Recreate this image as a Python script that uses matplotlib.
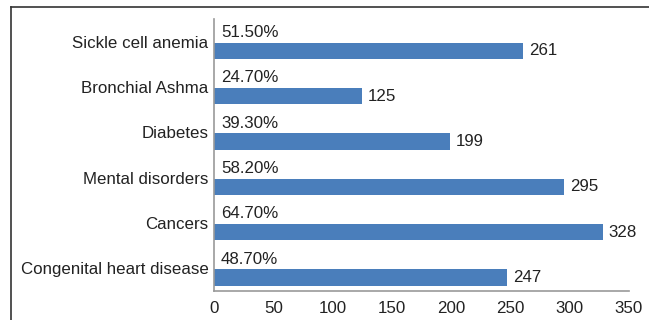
import matplotlib
matplotlib.use("Agg")
import matplotlib.pyplot as plt
from matplotlib.lines import Line2D
import numpy as np

categories = ["Sickle cell anemia", "Bronchial Ashma", "Diabetes",
              "Mental disorders", "Cancers", "Congenital heart disease"]
counts = [261, 125, 199, 295, 328, 247]
percents = ["51.50%", "24.70%", "39.30%", "58.20%", "64.70%", "48.70%"]
xticks = [0, 50, 100, 150, 200, 250, 300, 350]

plt.rcParams['font.family'] = ['Liberation Sans', 'DejaVu Sans']
FS = 12.2
W, H = 649, 320
fig = plt.figure(figsize=(W/100, H/100), dpi=100)
ax = fig.add_axes([214/W, 1-291/H, (629-214)/W, (291-19)/H])

n = len(categories)
pos = np.arange(n)[::-1]  # top to bottom
bar_h = 0.36
offset = -0.2
ax.barh(pos + offset, counts, height=bar_h, color='#4a7ebb', zorder=2)

for p, c, pc in zip(pos, counts, percents):
    ax.text(c + 5, p + offset, str(c), va='center', ha='left', fontsize=FS, color='#222222')
    ax.text(6, p + 0.2, pc, va='center', ha='left', fontsize=FS, color='#222222')

ax.set_xlim(0, 350)
ax.set_ylim(-0.5, n - 0.5)
ax.set_xticks(xticks)
ax.set_xticklabels([str(t) for t in xticks], fontsize=FS, color='#222222')
ax.set_yticks(pos)
ax.set_yticklabels(categories, fontsize=FS, color='#222222')
ax.tick_params(axis='y', length=0, pad=4)
ax.tick_params(axis='x', length=0, pad=7)
for s in ['top', 'right']:
    ax.spines[s].set_visible(False)
for s in ['left', 'bottom']:
    ax.spines[s].set_color('#999999')
    ax.spines[s].set_linewidth(1.2)

# figure frame (top and left visible)
fig.add_artist(Line2D([11/W, 11/W], [0, 1-7/H], transform=fig.transFigure, color='#333333', lw=1.2))
fig.add_artist(Line2D([11/W, 1], [1-7/H, 1-7/H], transform=fig.transFigure, color='#333333', lw=1.2))

fig.savefig("out.png", dpi=100)
